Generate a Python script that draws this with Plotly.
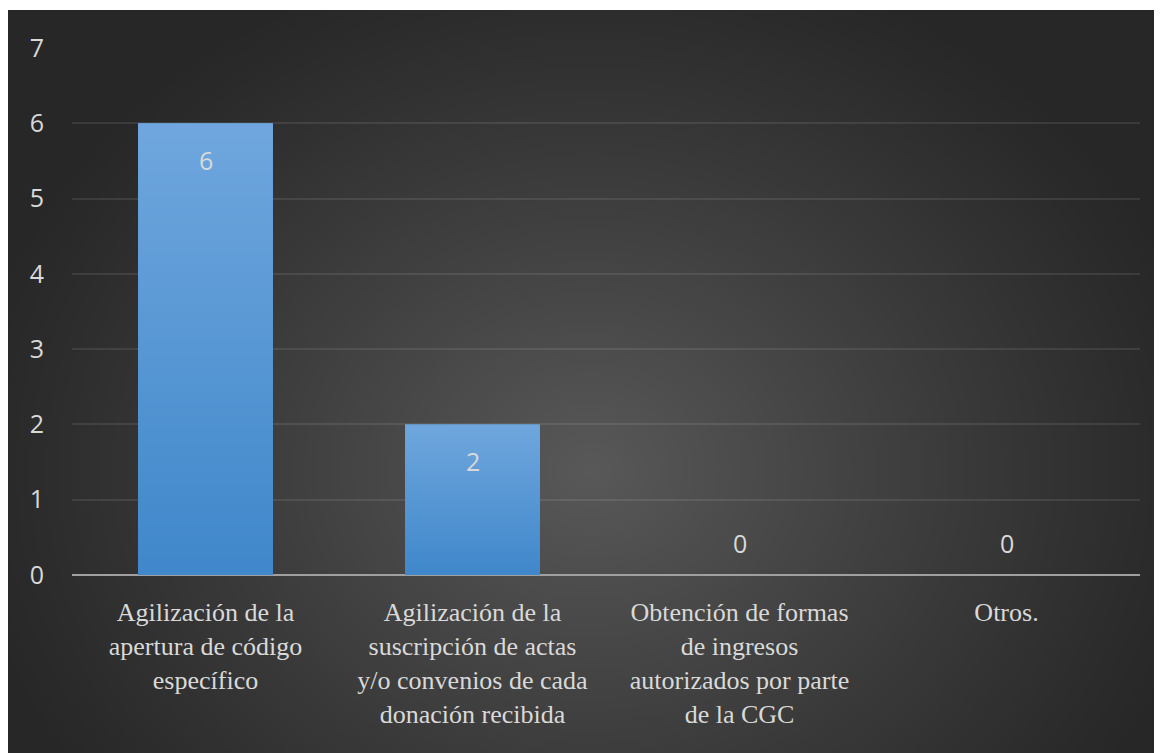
import base64, struct, zlib
import numpy as np
import plotly.graph_objects as go

categories = [
    "Agilización de la<br>apertura de código<br>específico",
    "Agilización de la<br>suscripción de actas<br>y/o convenios de cada<br>donación recibida",
    "Obtención de formas<br>de ingresos<br>autorizados por parte<br>de la CGC",
    "Otros.",
]
values = [6, 2, 0, 0]
y_ticks = [0, 1, 2, 3, 4, 5, 6, 7]

# page has an 8px body margin, so the figure is sized/offset accordingly
W_PX, H_PX = 1154, 745
ML, MR, MT, MB = 64, 22, 40, 178
BAR_W = 0.505


def make_png(arr):
    h, w, _ = arr.shape
    raw = b"".join(b"\x00" + arr[j].tobytes() for j in range(h))
    def chunk(t, d):
        c = struct.pack(">I", len(d)) + t + d
        return c + struct.pack(">I", zlib.crc32(t + d) & 0xFFFFFFFF)
    png = b"\x89PNG\r\n\x1a\n"
    png += chunk(b"IHDR", struct.pack(">IIBBBBB", w, h, 8, 2, 0, 0, 0))
    png += chunk(b"IDAT", zlib.compress(raw, 9))
    png += chunk(b"IEND", b"")
    return "data:image/png;base64," + base64.b64encode(png).decode()


# radial background gradient (dark, lighter in centre) in figure pixel coords
gw, gh = 400, 260
x0, x1, y0, y1 = 0, 1154, 2, 745
xs = x0 + (np.arange(gw) + 0.5) / gw * (x1 - x0)
ys = y0 + (np.arange(gh) + 0.5) / gh * (y1 - y0)
X, Y = np.meshgrid(xs, ys)
r = np.sqrt(((X - 582) / 640.0) ** 2 + ((Y - 462) / 540.0) ** 2)
t = np.clip(1 - r, 0, 1)
c = 39 + 50 * t ** 1.1
img = np.repeat(c[:, :, None], 3, axis=2).astype(np.uint8)
bg_src = make_png(img)

# vertical gradient fill used to shade the bars (light top -> darker bottom)
top_c = np.array([112, 167, 222], dtype=float)
bot_c = np.array([64, 136, 203], dtype=float)
gy = np.linspace(0, 1, 128)[:, None]
grad = top_c[None, :] * (1 - gy) + bot_c[None, :] * gy
bar_img = np.repeat(grad[:, None, :], 4, axis=1).astype(np.uint8)
bar_src = make_png(bar_img)

pw = W_PX - ML - MR
ph = H_PX - MT - MB

fig = go.Figure()
fig.add_trace(go.Bar(
    x=categories, y=values,
    marker=dict(color="#5b9bd7", line=dict(width=0)),
    width=BAR_W,
    hoverinfo="skip",
))

for i, (cat, v) in enumerate(zip(categories, values)):
    if v > 0:
        fig.add_layout_image(dict(
            source=bar_src, xref="x", yref="y",
            x=i - BAR_W / 2, y=v, sizex=BAR_W, sizey=v,
            xanchor="left", yanchor="top", sizing="stretch", layer="above",
        ))
    fig.add_annotation(
        x=cat, y=v, xref="x", yref="y",
        text=str(v), showarrow=False,
        yshift=-37 if v > 0 else 32,
        font=dict(family="Open Sans", size=25, color="#d9d9d9"),
    )

fig.add_layout_image(dict(
    source=bg_src, xref="paper", yref="paper",
    x=(x0 - ML) / pw, y=(MT + ph - y0) / ph,
    sizex=(x1 - x0) / pw, sizey=(y1 - y0) / ph,
    xanchor="left", yanchor="top", sizing="stretch", layer="below",
))

fig.update_layout(
    width=W_PX, height=H_PX,
    margin=dict(l=ML, r=MR, t=MT, b=MB),
    paper_bgcolor="white",
    plot_bgcolor="rgba(0,0,0,0)",
    showlegend=False,
    bargap=0.495,
)
fig.update_xaxes(
    showgrid=False, zeroline=False, showline=False,
    ticks="outside", ticklen=14, tickcolor="rgba(0,0,0,0)",
    tickfont=dict(family="Liberation Serif", size=26, color="#d9d9d9"),
    tickangle=0,
)
fig.update_yaxes(
    range=[0, 7], tickvals=y_ticks, showgrid=True,
    gridcolor="rgba(255,255,255,0.09)", gridwidth=2,
    zeroline=True, zerolinecolor="#a0a0a0", zerolinewidth=2,
    showline=False, ticks="outside", ticklen=22, tickcolor="rgba(0,0,0,0)",
    tickfont=dict(family="Open Sans", size=25, color="#d9d9d9"),
)

fig.write_html("out.html")
